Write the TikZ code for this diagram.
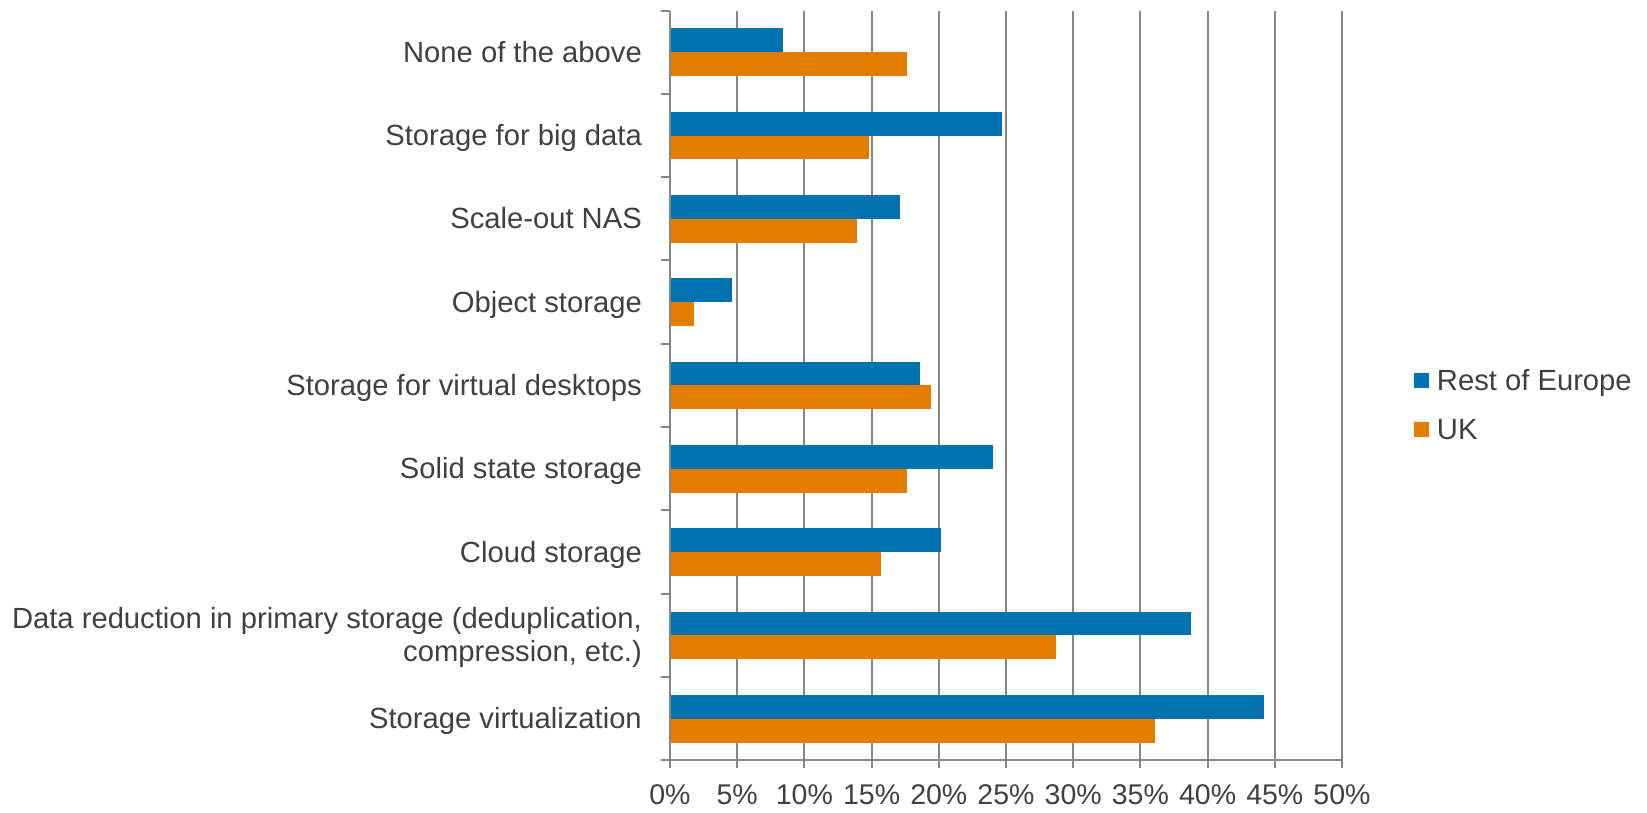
\documentclass[tikz,border=0pt]{standalone}
\usepackage{fontspec}
\setmainfont{Liberation Sans}
\usetikzlibrary{positioning}

\definecolor{euroblue}{RGB}{0,114,176}
\definecolor{ukorange}{RGB}{227,125,0}
\definecolor{gridgray}{RGB}{134,134,134}
\definecolor{txtgray}{RGB}{64,64,64}
\newcommand{\chartfont}{\fontsize{29.2}{33}\selectfont}
\newcommand{\tickfont}{\fontsize{28.5}{33}\selectfont}

\begin{document}
\begin{tikzpicture}[x=13.44pt, y=83.33pt]
\tikzstyle{gridline} = [draw=gridgray, line width=2pt]
\tikzstyle{eurobar} = [fill=euroblue]
\tikzstyle{ukbar} = [fill=ukorange]
\tikzstyle{catlabel} = [anchor=base east, text=txtgray, inner sep=0pt, font=\chartfont]
\tikzstyle{ticklabel} = [anchor=base, text=txtgray, inner sep=0pt, font=\tickfont]
\tikzstyle{keybox} = [rectangle, minimum size=14.7pt, inner sep=0pt]
\tikzstyle{keytext} = [anchor=base west, text=txtgray, inner sep=0pt, font=\chartfont]

\useasboundingbox (-670pt,10.5pt) rectangle (977pt,-801.5pt);

%grid
\foreach \p in {5,10,...,50}
  \draw[gridline] (\p,0) -- (\p,-9) -- ++(0,-8pt);

%bars
\foreach \k/\eu/\uk in {0/8.4/17.6, 1/24.7/14.8, 2/17.1/13.9, 3/4.6/1.8, 4/18.6/19.4, 5/24.0/17.6, 6/20.2/15.7, 7/38.8/28.7, 8/44.2/36.1} {
  \fill[eurobar] (0,-\k-0.214) rectangle (\eu,-\k-0.5);
  \fill[ukbar] (0,-\k-0.5) rectangle (\uk,-\k-0.786);
}

%axes
\draw[gridline] (0,0) -- (0,-9) -- ++(0,-8pt);
\draw[gridline] (0,-9) -- (50,-9);
\foreach \k in {0,...,9}
  \draw[gridline] (0,-\k) -- ++(-9pt,0);

%labels
\foreach \p in {0,5,...,50}
  \node (tick\p) [ticklabel, yshift=-44.5pt] at (\p,-9) {\p\%};
\foreach \k/\txt in {0/None of the above, 1/Storage for big data, 2/Scale-out NAS, 3/Object storage, 4/Storage for virtual desktops, 5/Solid state storage, 6/Cloud storage, 8/Storage virtualization}
  \node (cat\k) [catlabel, xshift=-28pt, yshift=-10pt] at (0,-\k-0.5) {\txt};
\node (cat7a) [catlabel, xshift=-28pt, yshift=6.5pt] at (0,-7.5) {Data reduction in primary storage (deduplication,};
\node (cat7b) [catlabel, xshift=-28pt, yshift=-26.5pt] at (0,-7.5) {compression, etc.)};

%legend
\node (keyeu) [keybox, fill=euroblue] at (751.7pt,-369.7pt) {};
\node (keyuk) [keybox, fill=ukorange, below=34.3pt of keyeu] {};
\node (txteu) [keytext] at ([xshift=7.5pt, yshift=-9.8pt]keyeu.east) {Rest of Europe};
\node (txtuk) [keytext] at ([xshift=7.5pt, yshift=-9.8pt]keyuk.east) {UK};

\end{tikzpicture}
\end{document}
